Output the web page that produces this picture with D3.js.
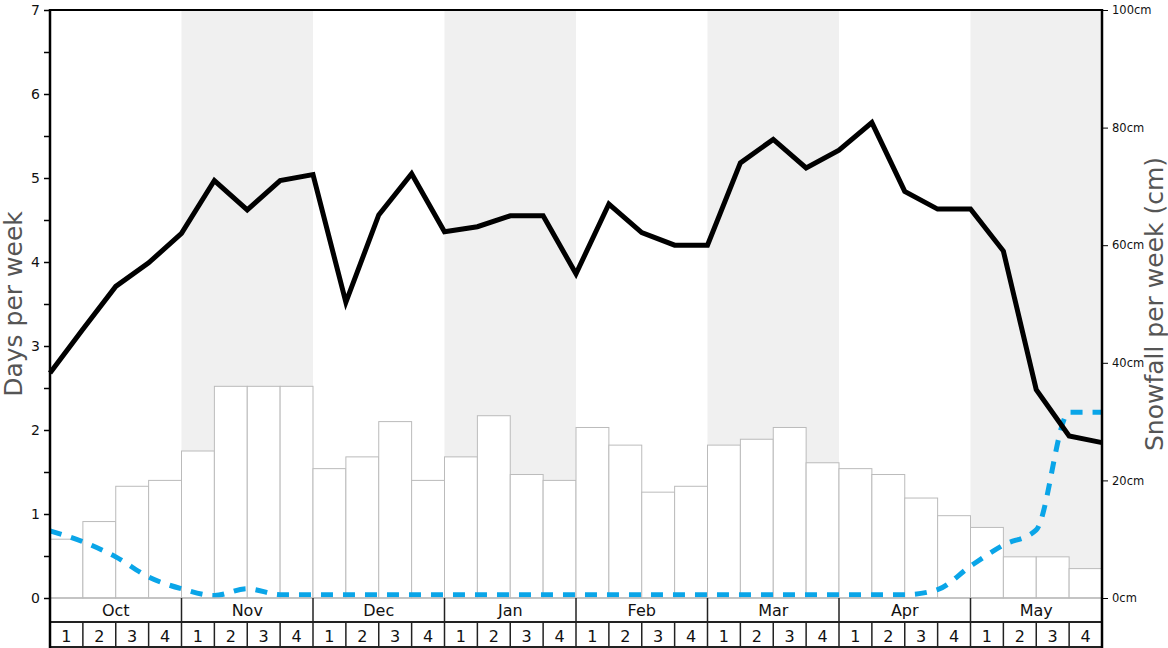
<!DOCTYPE html>
<html><head><meta charset="utf-8">
<script src="https://cdn.jsdelivr.net/npm/d3@7"></script>
<style>
html,body{margin:0;padding:0;background:#fff;}
svg{display:block;font-family:"DejaVu Sans",sans-serif;}
</style></head>
<body>
<svg id="chart" width="1168" height="648"></svg>
<script>
const months = ["Oct","Nov","Dec","Jan","Feb","Mar","Apr","May"];
const weekLabels = ["1","2","3","4"];
const shadedMonths = ["Nov","Jan","Mar","May"];
// weekly snowfall bars (cm, right axis)
const snowfallCm = [10,13,19,20,25,36,36,36,22,24,30,20,24,31,21,20,29,26,18,19,26,27,29,23,22,21,17,14,12,7,7,5];
// black line: days per week (left axis), at week boundaries
const daysLine = [2.68,3.2,3.71,3.99,4.34,4.97,4.62,4.97,5.04,3.52,4.56,5.05,4.36,4.42,4.55,4.55,3.86,4.69,4.35,4.2,4.2,5.18,5.46,5.12,5.33,5.66,4.84,4.63,4.63,4.13,2.48,1.93,1.85];
// blue dashed line (left axis units)
const blueLine = [0.8,0.67,0.49,0.25,0.11,0.03,0.11,0.04,0.04,0.04,0.04,0.04,0.04,0.04,0.04,0.04,0.04,0.04,0.04,0.04,0.04,0.04,0.04,0.04,0.04,0.04,0.04,0.1,0.38,0.63,0.81,2.21,2.21];
const leftTicks = [0,0.5,1,1.5,2,2.5,3,3.5,4,4.5,5,5.5,6,6.5,7];
const rightTicks = [0,20,40,60,80,100];

const svg = d3.select("#chart");
const L = 50, R = 1102, T = 10, B = 598, MROW = 622, WROW = 648;
const nWeeks = snowfallCm.length;
const x = d3.scaleLinear().domain([0, nWeeks]).range([L, R]);
const yL = d3.scaleLinear().domain([0, 7]).range([B, T]);
const yR = d3.scaleLinear().domain([0, 100]).range([B, T]);

// shaded months
months.forEach((m, i) => {
  if (shadedMonths.includes(m)) {
    svg.append("rect").attr("x", x(i*4)).attr("y", T).attr("width", x(i*4+4)-x(i*4)).attr("height", B-T).attr("fill", "#f0f0f0");
  }
});

// bars
svg.append("g").selectAll("rect").data(snowfallCm).join("rect")
  .attr("x", (d,i) => x(i)).attr("width", (d,i) => x(i+1)-x(i))
  .attr("y", d => yR(d)).attr("height", d => B - yR(d))
  .attr("fill", "#fff").attr("stroke", "#bbb").attr("stroke-width", 1);

// blue dashed
svg.append("path").datum(blueLine)
  .attr("d", d3.line().x((d,i) => x(i)).y(d => yL(d)).curve(d3.curveMonotoneX))
  .attr("fill", "none").attr("stroke", "#0aa5e8").attr("stroke-width", 5).attr("stroke-dasharray", "12,10");

// black line
svg.append("path").datum(daysLine)
  .attr("d", d3.line().x((d,i) => x(i)).y(d => yL(d)))
  .attr("fill", "none").attr("stroke", "#000").attr("stroke-width", 5).attr("stroke-linejoin", "miter");

// bottom rows
svg.append("line").attr("x1", L).attr("x2", R).attr("y1", B).attr("y2", B).attr("stroke", "#bbb").attr("stroke-width", 1.5);
svg.append("line").attr("x1", L).attr("x2", R).attr("y1", MROW).attr("y2", MROW).attr("stroke", "#222").attr("stroke-width", 2);
svg.append("line").attr("x1", L).attr("x2", R).attr("y1", WROW-1).attr("y2", WROW-1).attr("stroke", "#222").attr("stroke-width", 2);
months.forEach((m, i) => {
  if (i > 0) svg.append("line").attr("x1", x(i*4)).attr("x2", x(i*4)).attr("y1", B).attr("y2", MROW).attr("stroke", "#222").attr("stroke-width", 1.5);
  svg.append("text").attr("x", (x(i*4)+x(i*4+4))/2).attr("y", 616).attr("text-anchor", "middle")
    .attr("font-size", 16).attr("fill", "#111").text(m);
});
for (let w = 0; w < nWeeks; w++) {
  if (w > 0) svg.append("line").attr("x1", x(w)).attr("x2", x(w)).attr("y1", MROW).attr("y2", WROW).attr("stroke", "#222").attr("stroke-width", 1.5);
  svg.append("text").attr("x", (x(w)+x(w+1))/2).attr("y", 642).attr("text-anchor", "middle")
    .attr("font-size", 16).attr("fill", "#111").text(weekLabels[w % 4]);
}

// top border
svg.append("line").attr("x1", L).attr("x2", R).attr("y1", T).attr("y2", T).attr("stroke", "#000").attr("stroke-width", 2);

// left axis
const gl = svg.append("g").attr("transform", `translate(${L},0)`)
  .call(d3.axisLeft(yL).tickValues(leftTicks).tickSize(6).tickPadding(4)
    .tickFormat(d => Number.isInteger(d) ? d : ""));
gl.select(".domain").remove();
gl.selectAll("line").attr("stroke", "#000").attr("stroke-width", 1.5);
gl.selectAll("text").attr("font-size", 14).attr("fill", "#111").attr("font-family", "DejaVu Sans");
svg.append("line").attr("x1", L).attr("x2", L).attr("y1", T-1).attr("y2", WROW).attr("stroke", "#000").attr("stroke-width", 2.5);

// right axis
const gr = svg.append("g").attr("transform", `translate(${R},0)`)
  .call(d3.axisRight(yR).tickValues(rightTicks).tickSize(6).tickPadding(4).tickFormat(d => d + "cm"));
gr.select(".domain").remove();
gr.selectAll("line").attr("stroke", "#000").attr("stroke-width", 1);
gr.selectAll("text").attr("font-size", 11.5).attr("fill", "#111").attr("font-family", "DejaVu Sans");
svg.append("line").attr("x1", R).attr("x2", R).attr("y1", T-1).attr("y2", WROW).attr("stroke", "#000").attr("stroke-width", 2.5);

// titles
svg.append("text").attr("transform", `translate(22,${(T+B)/2}) rotate(-90)`).attr("text-anchor", "middle")
  .attr("font-size", 25).attr("fill", "#555").text("Days per week");
svg.append("text").attr("transform", `translate(1163,${(T+B)/2}) rotate(-90)`).attr("text-anchor", "middle")
  .attr("font-size", 25).attr("fill", "#555").text("Snowfall per week (cm)");
</script>
</body></html>
